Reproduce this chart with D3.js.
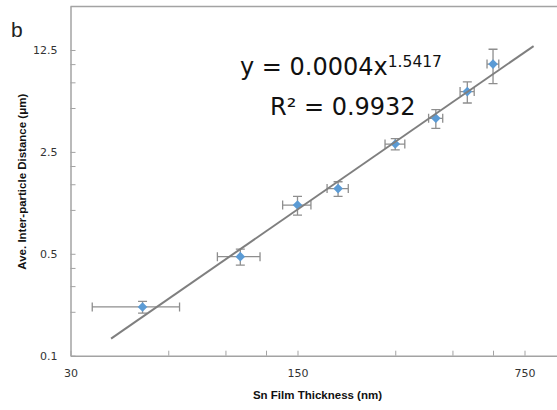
<!DOCTYPE html>
<html>
<head>
<meta charset="utf-8">
<script src="https://d3js.org/d3.v7.min.js"></script>
<style>
    body { margin: 0; background: #fff; }
    svg { display: block; }
</style>
</head>
<body>
<div id="main"></div>
<script>
// thickness (nm) and inter-particle distance (um), with error bars
var thickness = [50, 100, 150, 200, 300, 400, 500, 600];
var thicknessErr = [15, 15, 15, 15, 21, 20, 25, 25];
var distance = [0.216, 0.478, 1.08, 1.40, 2.83, 4.25, 6.48, 10.0];
var distanceErr = [0.02, 0.06, 0.16, 0.16, 0.25, 0.63, 1.07, 2.65];

// power trendline end points
var trendX = [40, 800];
var trendY = [0.131, 13.3];

var xMajorTicks = [30, 150, 750];
var xMinorTicks = [60, 90, 120, 300, 450, 600];
var yMajorTicks = [0.1, 0.5, 2.5, 12.5];
var yMinorTicks = [0.2, 0.3, 0.4, 1, 1.5, 2, 5, 7.5, 10];

var width = 557,
    height = 410;

var axisColor = "#a3a3a3",
    barColor = "#8e8e8e",
    pointColor = "#5b9bd5";

var svg = d3.select("#main")
    .append("svg")
    .attr("width", width)
    .attr("height", height);

// log base 5 axes, the right part of the plot is cut off
var x = d3.scaleLog()
    .base(5)
    .domain([30, 3750])
    .range([70.5, 751.5]);

var y = d3.scaleLog()
    .base(5)
    .domain([0.1, 25])
    .range([355.7, 6.1]);

var fmt = function(d) { return String(d); };

// top border of the plot area
svg.append("line")
    .attr("x1", 70.5).attr("x2", width)
    .attr("y1", 6.5).attr("y2", 6.5)
    .attr("stroke", axisColor)
    .attr("stroke-width", 1.5);

var xAxis = svg.append("g")
    .attr("transform", "translate(0," + y(0.1) + ")")
    .call(d3.axisBottom(x)
        .tickValues(xMajorTicks)
        .tickFormat(fmt)
        .tickSizeInner(-5)
        .tickSizeOuter(0)
        .tickPadding(14));

var xMinor = svg.append("g")
    .attr("transform", "translate(0," + y(0.1) + ")")
    .call(d3.axisBottom(x)
        .tickValues(xMinorTicks)
        .tickFormat("")
        .tickSizeInner(-5)
        .tickSizeOuter(0));
xMinor.select(".domain").remove();

var yAxis = svg.append("g")
    .attr("transform", "translate(" + x(30) + ",0)")
    .call(d3.axisLeft(y)
        .tickValues(yMajorTicks)
        .tickFormat(fmt)
        .tickSizeInner(-5)
        .tickSizeOuter(0)
        .tickPadding(13));

var yMinor = svg.append("g")
    .attr("transform", "translate(" + x(30) + ",0)")
    .call(d3.axisLeft(y)
        .tickValues(yMinorTicks)
        .tickFormat("")
        .tickSizeInner(-5)
        .tickSizeOuter(0));
yMinor.select(".domain").remove();

svg.selectAll(".domain")
    .attr("stroke", axisColor)
    .attr("stroke-width", 1.5);
svg.selectAll(".tick line")
    .attr("stroke", axisColor)
    .attr("stroke-width", 1);
svg.selectAll(".tick text")
    .attr("fill", "#333")
    .style("font-family", "'DejaVu Sans', sans-serif")
    .style("font-size", "11px");

// error bars
var errG = svg.append("g")
    .attr("stroke", barColor)
    .attr("stroke-width", 1.3)
    .attr("fill", "none");

thickness.forEach(function(t, i) {
    var cx = x(t),
        cy = y(distance[i]),
        x0 = x(t - thicknessErr[i]),
        x1 = x(t + thicknessErr[i]),
        y0 = y(distance[i] - distanceErr[i]),
        y1 = y(distance[i] + distanceErr[i]);

    errG.append("path")
        .attr("d", "M" + x0 + "," + cy + "H" + x1
            + "M" + x0 + "," + (cy - 4.5) + "V" + (cy + 4.5)
            + "M" + x1 + "," + (cy - 4.5) + "V" + (cy + 4.5));

    errG.append("path")
        .attr("d", "M" + cx + "," + y0 + "V" + y1
            + "M" + (cx - 4.5) + "," + y0 + "H" + (cx + 4.5)
            + "M" + (cx - 4.5) + "," + y1 + "H" + (cx + 4.5));
});

// diamonds
svg.append("g")
    .selectAll("path")
    .data(thickness)
    .enter()
    .append("path")
    .attr("d", d3.symbol().type(d3.symbolSquare).size(46))
    .attr("transform", function(d, i) {
        return "translate(" + x(d) + "," + y(distance[i]) + ") rotate(45)";
    })
    .attr("fill", pointColor);

// trendline
var line = d3.line()
    .x(function(d, i) { return x(d); })
    .y(function(d, i) { return y(trendY[i]); });

svg.append("path")
    .datum(trendX)
    .attr("d", line)
    .attr("fill", "none")
    .attr("stroke", "#7f7f7f")
    .attr("stroke-width", 2);

// equation
var eq = svg.append("text")
    .attr("x", 240)
    .attr("y", 75)
    .attr("fill", "#111")
    .style("font-family", "'DejaVu Sans', sans-serif")
    .style("font-size", "24px");
eq.append("tspan").text("y = 0.0004x");
eq.append("tspan")
    .attr("dy", -8.3)
    .style("font-size", "15.5px")
    .text("1.5417");

svg.append("text")
    .attr("x", 270)
    .attr("y", 115)
    .attr("fill", "#111")
    .style("font-family", "'DejaVu Sans', sans-serif")
    .style("font-size", "24px")
    .text("R² = 0.9932");

// titles
svg.append("text")
    .attr("x", 317.5)
    .attr("y", 399)
    .attr("text-anchor", "middle")
    .attr("fill", "#111")
    .style("font-family", "'Liberation Sans', Arial, sans-serif")
    .style("font-weight", "bold")
    .style("font-size", "11.5px")
    .text("Sn Film Thickness (nm)");

svg.append("text")
    .attr("transform", "translate(25.5,181.7) rotate(-90)")
    .attr("text-anchor", "middle")
    .attr("fill", "#111")
    .style("font-family", "'Liberation Sans', Arial, sans-serif")
    .style("font-weight", "bold")
    .style("font-size", "11.5px")
    .text("Ave. Inter-particle Distance (μm)");

svg.append("text")
    .attr("x", 11)
    .attr("y", 37)
    .attr("fill", "#222")
    .style("font-family", "'Liberation Sans', Arial, sans-serif")
    .style("font-size", "21px")
    .text("b");
</script>
</body>
</html>
